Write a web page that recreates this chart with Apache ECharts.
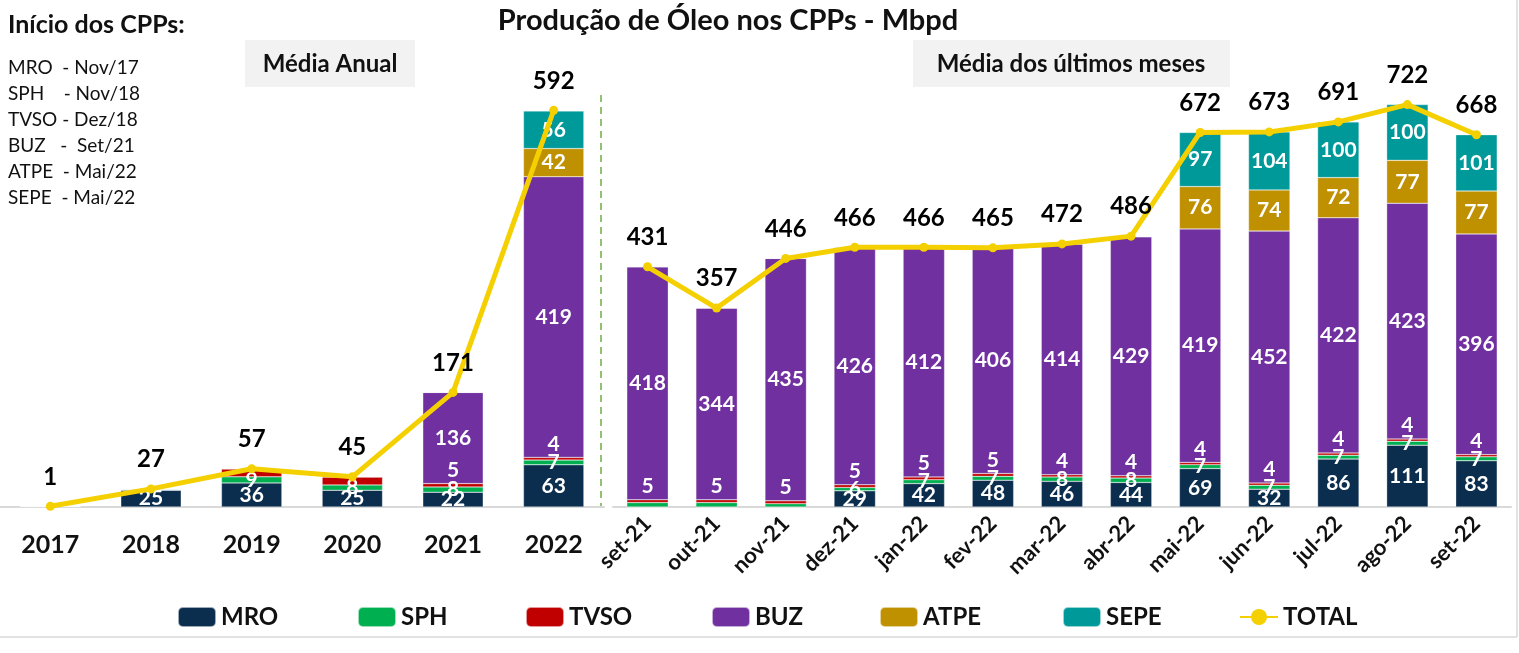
<!DOCTYPE html>
<html>
<head>
<meta charset="utf-8">
<script src="https://cdn.jsdelivr.net/npm/echarts@6/dist/echarts.min.js"></script>
<style>
html,body{margin:0;padding:0;background:#fff;}
#chart{width:1519px;height:653px;}
</style>
</head>
<body>
<div id="chart"></div>
<script>
// ---- Data ----
const years = ['2017', '2018', '2019', '2020', '2021', '2022'];
const months = ['set-21', 'out-21', 'nov-21', 'dez-21', 'jan-22', 'fev-22', 'mar-22', 'abr-22', 'mai-22', 'jun-22', 'jul-22', 'ago-22', 'set-22'];

const yrMRO   = [1, 25, 36, 25, 22, 63];
const yrSPH   = [0, 1, 9, 8, 8, 7];
const yrTVSO  = [0, 1, 12, 12, 5, 4];
const yrBUZ   = [0, 0, 0, 0, 136, 419];
const yrATPE  = [0, 0, 0, 0, 0, 42];
const yrSEPE  = [0, 0, 0, 0, 0, 56];
const yrTOTAL = [1, 27, 57, 45, 171, 592];

const moMRO   = [0, 0, 0, 29, 42, 48, 46, 44, 69, 32, 86, 111, 83];
const moSPH   = [8, 8, 6, 6, 7, 7, 8, 8, 7, 7, 7, 7, 7];
const moTVSO  = [5, 5, 5, 5, 5, 5, 4, 4, 4, 4, 4, 4, 4];
const moBUZ   = [418, 344, 435, 426, 412, 406, 414, 429, 419, 452, 422, 423, 396];
const moATPE  = [0, 0, 0, 0, 0, 0, 0, 0, 76, 74, 72, 77, 77];
const moSEPE  = [0, 0, 0, 0, 0, 0, 0, 0, 97, 104, 100, 100, 101];
const moTOTAL = [431, 357, 446, 466, 466, 465, 472, 486, 672, 673, 691, 722, 668];

const seriesNames = ['MRO', 'SPH', 'TVSO', 'BUZ', 'ATPE', 'SEPE', 'TOTAL'];
const startList = ['MRO  - Nov/17', 'SPH    - Nov/18', 'TVSO - Dez/18', 'BUZ   -  Set/21', 'ATPE  - Mai/22', 'SEPE  - Mai/22'];

// ---- Styling ----
const FONT = 'Lato';
const COLORS = {MRO:'#0B2E4F', SPH:'#00B050', TVSO:'#C00000', BUZ:'#7030A0', ATPE:'#BF9000', SEPE:'#00999A', TOTAL:'#F5D000'};
const legendLefts = [172, 352, 520, 706, 874, 1057, 1234];

const chart = echarts.init(document.getElementById('chart'));

function inLabel(show, pos) {
  return {
    show: true,
    position: pos || 'inside',
    color: '#fff', fontWeight: 'bold', fontSize: 21, fontFamily: FONT,
    formatter: p => show(p) ? String(p.value) : ''
  };
}

function buildSeries(axis, d) {
  const mk = (name, showFn, pos) => ({
    type:'bar', stack:'s'+axis, xAxisIndex:axis, yAxisIndex:axis, barWidth:'60%',
    name:name, data:d[name],
    itemStyle:{color:COLORS[name], borderColor:'rgba(255,255,255,0.6)', borderWidth:0.5},
    label: inLabel(showFn, pos)
  });
  const tv = mk('TVSO', p => d.BUZ[p.dataIndex] > 0, 'top');
  tv.label.distance = 3;
  return [
    mk('MRO', p => p.value >= 10),
    mk('SPH', p => p.value >= 5 && d.MRO[p.dataIndex] >= 10),
    tv,
    mk('BUZ', p => p.value > 0),
    mk('ATPE', p => p.value > 0),
    mk('SEPE', p => p.value > 0),
    {name:'TOTAL', type:'line', xAxisIndex:axis, yAxisIndex:axis, data:d.TOTAL, z:5,
      symbol:'circle', symbolSize:9, lineStyle:{color:COLORS.TOTAL, width:5}, itemStyle:{color:COLORS.TOTAL},
      label:{show:true, position:'top', distance:13, color:'#000', fontWeight:'bold', fontSize:24, fontFamily:FONT}}
  ];
}

const series = buildSeries(0, {MRO:yrMRO, SPH:yrSPH, TVSO:yrTVSO, BUZ:yrBUZ, ATPE:yrATPE, SEPE:yrSEPE, TOTAL:yrTOTAL})
  .concat(buildSeries(1, {MRO:moMRO, SPH:moSPH, TVSO:moTVSO, BUZ:moBUZ, ATPE:moATPE, SEPE:moSEPE, TOTAL:moTOTAL}));

const axisLine = {show:true, lineStyle:{color:'#D9D9D9', width:2}};

const legends = seriesNames.map((n, i) => ({
  data:[n], left:legendLefts[i], top:600, itemWidth:38, itemHeight:20, itemGap:0,
  textStyle:{fontSize:24, fontWeight:'bold', color:'#111', fontFamily:FONT}
}));

const option = {
  backgroundColor:'#fff',
  animation:false,
  textStyle:{fontFamily:FONT},
  title:{text:'Produção de Óleo nos CPPs - Mbpd', left:723, textAlign:'center', top:1,
         textStyle:{fontSize:29, fontWeight:'bold', color:'#111', fontFamily:FONT}},
  legend: legends,
  grid:[
    {left:0, width:604, top:105, bottom:146},
    {left:613, width:898, top:89, bottom:146}
  ],
  xAxis:[
    {type:'category', gridIndex:0, data:years, axisTick:{show:false}, axisLine:axisLine,
     axisLabel:{margin:25, fontSize:25, fontWeight:'bold', color:'#111', fontFamily:FONT}},
    {type:'category', gridIndex:1, data:months, axisTick:{show:false}, axisLine:axisLine,
     axisLabel:{margin:13, rotate:45, fontSize:22, fontWeight:'bold', color:'#111', fontFamily:FONT}}
  ],
  yAxis:[
    {type:'value', gridIndex:0, min:0, max:600, show:false, splitLine:{show:false}},
    {type:'value', gridIndex:1, min:0, max:750, show:false, splitLine:{show:false}}
  ],
  graphic:[
    {type:'text', left:8, top:12, style:{text:'Início dos CPPs:', font:'bold 25px '+FONT, fill:'#111'}},
    {type:'text', left:8, top:55, style:{text:startList.join('\n'), font:'19px '+FONT, fill:'#111', lineHeight:26}},
    {type:'rect', shape:{x:245, y:40, width:170, height:47}, style:{fill:'#F2F2F2'}},
    {type:'text', x:330, y:64, style:{text:'Média Anual', font:'bold 24px '+FONT, fill:'#111', align:'center', verticalAlign:'middle'}},
    {type:'rect', shape:{x:913, y:40, width:317, height:47}, style:{fill:'#F2F2F2'}},
    {type:'text', x:1071, y:64, style:{text:'Média dos últimos meses', font:'bold 24px '+FONT, fill:'#111', align:'center', verticalAlign:'middle'}},
    {type:'line', shape:{x1:601, y1:95, x2:601, y2:507}, style:{stroke:'#70AD47', lineWidth:1.5, lineDash:[7,5]}},
    {type:'line', shape:{x1:0, y1:637, x2:1517, y2:637}, style:{stroke:'#D9D9D9', lineWidth:1.5}},
    {type:'line', shape:{x1:1517, y1:0, x2:1517, y2:637}, style:{stroke:'#D9D9D9', lineWidth:1.5}}
  ],
  series: series
};
chart.setOption(option);
</script>
</body>
</html>
